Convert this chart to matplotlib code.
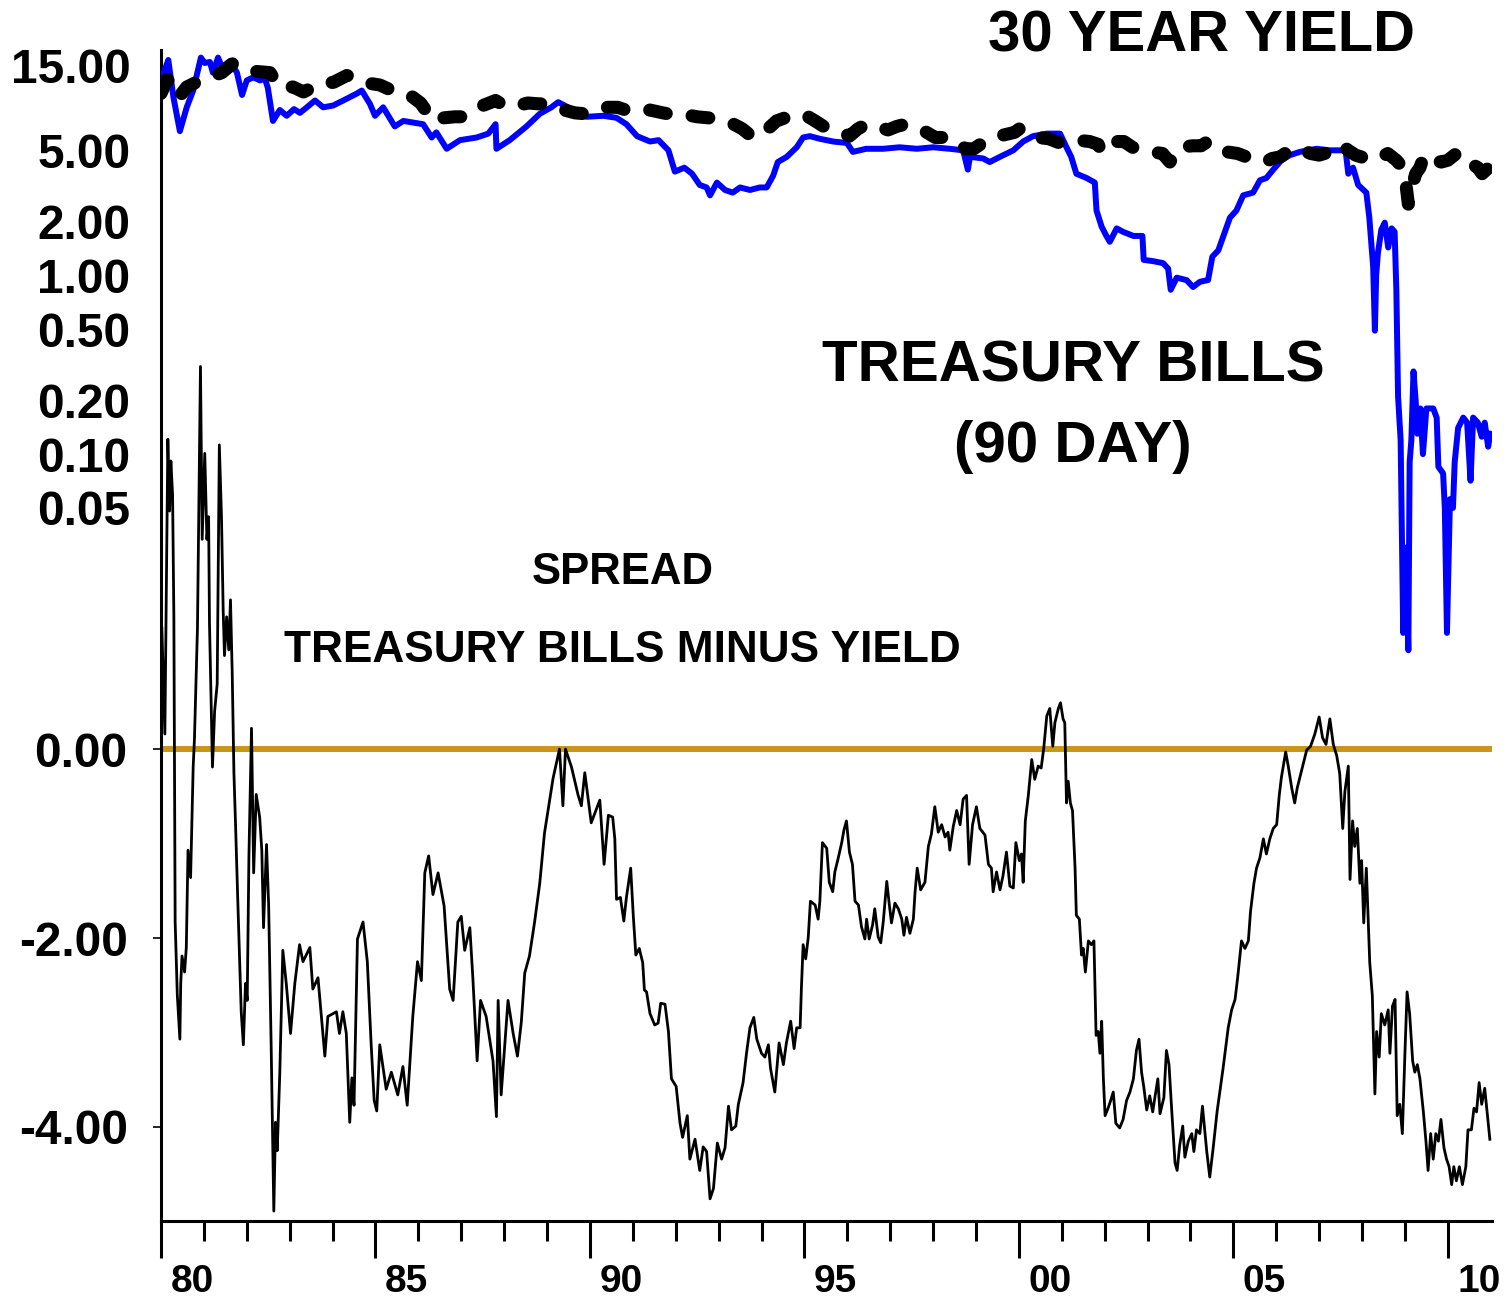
import matplotlib
matplotlib.use("Agg")
import matplotlib.pyplot as plt
import matplotlib.transforms as mtrans
from matplotlib.ticker import NullLocator

plt.rcParams['font.family'] = ['Liberation Sans', 'DejaVu Sans']
plt.rcParams['font.weight'] = 'bold'

# ---------------- data (decimal years) ----------------
bill_t = [1980.00, 1980.17, 1980.29, 1980.44, 1980.60, 1980.75, 1980.93, 1981.02, 1981.14, 1981.21,
          1981.33, 1981.42, 1981.61, 1981.77, 1981.89, 1982.00, 1982.15, 1982.31, 1982.42, 1982.49,
          1982.61, 1982.77, 1982.93, 1983.10, 1983.24, 1983.40, 1983.59, 1983.78, 1984.01, 1984.25,
          1984.57, 1984.68, 1984.87, 1984.99, 1985.18, 1985.45, 1985.65, 1986.11, 1986.31, 1986.42,
          1986.66, 1986.97, 1987.36, 1987.63, 1987.80, 1987.82, 1988.13, 1988.52, 1988.83, 1989.10,
          1989.26, 1989.53, 1989.92, 1990.31, 1990.62, 1990.85, 1991.10, 1991.40, 1991.60, 1991.83,
          1991.98, 1992.20, 1992.38, 1992.56, 1992.72, 1992.80, 1992.96, 1993.15, 1993.33, 1993.50,
          1993.73, 1993.96, 1994.12, 1994.27, 1994.38, 1994.59, 1994.82, 1994.97, 1995.13, 1995.36,
          1995.67, 1995.99, 1996.13, 1996.44, 1996.83, 1997.22, 1997.62, 1998.00, 1998.39, 1998.70,
          1998.81, 1998.86, 1999.17, 1999.32, 1999.56, 1999.87, 2000.10, 2000.33, 2000.65, 2000.96,
          2001.11, 2001.22, 2001.34, 2001.58, 2001.77, 2001.81, 2001.93, 2002.04, 2002.12, 2002.28,
          2002.43, 2002.67, 2002.88, 2002.91, 2003.13, 2003.36, 2003.48, 2003.54, 2003.68, 2003.91,
          2004.06, 2004.22, 2004.41, 2004.51, 2004.65, 2004.76, 2004.92, 2005.07, 2005.23, 2005.46,
          2005.62, 2005.77, 2005.93, 2006.12, 2006.32, 2006.55, 2006.94, 2007.25, 2007.56, 2007.62,
          2007.68, 2007.79, 2007.91, 2008.10, 2008.17, 2008.26, 2008.30, 2008.33, 2008.37, 2008.45,
          2008.53, 2008.61, 2008.69, 2008.76, 2008.80, 2008.84, 2008.90, 2008.96, 2009.02, 2009.08,
          2009.11, 2009.15, 2009.20, 2009.25, 2009.29, 2009.36, 2009.42, 2009.50, 2009.66, 2009.74,
          2009.78, 2009.89, 2009.93, 2009.98, 2010.05, 2010.12, 2010.16, 2010.24, 2010.36, 2010.45,
          2010.53, 2010.59, 2010.70, 2010.79, 2010.86, 2010.94, 2010.99]
bill_v = [12.3, 16.0, 9.9, 6.4, 8.7, 10.8, 16.5, 15.4, 15.6, 13.6,
          16.5, 14.6, 15.8, 13.6, 10.2, 12.3, 12.8, 12.3, 12.6, 11.2,
          7.3, 8.4, 7.8, 8.5, 8.1, 8.7, 9.5, 8.7, 8.9, 9.5,
          10.4, 10.8, 9.1, 7.8, 8.7, 6.8, 7.3, 7.0, 5.9, 6.3,
          5.1, 5.7, 5.9, 6.2, 7.0, 5.1, 5.7, 6.8, 8.0, 8.7,
          9.3, 8.6, 7.7, 7.8, 7.6, 7.0, 6.0, 5.6, 5.7, 5.0,
          3.8, 4.0, 3.7, 3.2, 3.1, 2.8, 3.3, 3.0, 2.9, 3.1,
          3.0, 3.1, 3.1, 3.6, 4.3, 4.6, 5.2, 5.9, 6.0, 5.8,
          5.6, 5.5, 4.9, 5.1, 5.1, 5.2, 5.1, 5.2, 5.1, 5.0,
          3.9, 4.6, 4.5, 4.3, 4.6, 5.0, 5.6, 6.0, 6.2, 6.2,
          5.2, 4.6, 3.7, 3.5, 3.3, 2.3, 1.87, 1.66, 1.54, 1.83,
          1.75, 1.66, 1.66, 1.22, 1.20, 1.17, 1.09, 0.83, 0.97, 0.94,
          0.86, 0.92, 0.94, 1.27, 1.38, 1.64, 2.1, 2.3, 2.8, 2.9,
          3.4, 3.5, 3.9, 4.4, 4.7, 4.9, 5.1, 5.0, 5.0, 4.9,
          3.7, 4.0, 3.2, 2.9, 2.1, 1.11, 0.49, 1.0, 1.33, 1.8,
          1.97, 1.43, 1.83, 1.75, 0.83, 0.21, 0.12, 0.01, 0.03, 0.008,
          0.09, 0.12, 0.29, 0.20, 0.13, 0.18, 0.10, 0.18, 0.18, 0.16,
          0.085, 0.078, 0.05, 0.01, 0.056, 0.05, 0.09, 0.14, 0.16, 0.15,
          0.071, 0.16, 0.15, 0.125, 0.15, 0.11, 0.13]

bond_t = [1980.00, 1980.15, 1980.40, 1980.60, 1980.91, 1981.14, 1981.42, 1981.69, 1982.00, 1982.23,
          1982.54, 1982.77, 1983.08, 1983.32, 1983.71, 1984.02, 1984.33, 1984.60, 1984.90, 1985.10,
          1985.35, 1985.60, 1985.80, 1986.05, 1986.20, 1986.35, 1986.60, 1986.85, 1987.05, 1987.25,
          1987.45, 1987.65, 1987.80, 1988.00, 1988.25, 1988.55, 1988.80, 1989.05, 1989.40, 1989.65,
          1989.90, 1990.15, 1990.40, 1990.65, 1990.90, 1991.15, 1991.40, 1991.70, 1991.95, 1992.10,
          1992.25, 1992.50, 1992.75, 1993.00, 1993.15, 1993.35, 1993.55, 1993.80, 1994.00, 1994.15,
          1994.35, 1994.55, 1994.85, 1995.05, 1995.25, 1995.45, 1995.65, 1995.85, 1996.05, 1996.25,
          1996.45, 1996.70, 1996.95, 1997.15, 1997.35, 1997.55, 1997.80, 1998.05, 1998.30, 1998.55,
          1998.75, 1998.95, 1999.15, 1999.40, 1999.65, 1999.90, 2000.05, 2000.25, 2000.45, 2000.70,
          2000.95, 2001.15, 2001.35, 2001.65, 2001.85, 2001.92, 2002.00, 2002.25, 2002.45, 2002.65,
          2002.85, 2003.10, 2003.35, 2003.52, 2003.60, 2003.75, 2004.05, 2004.25, 2004.40, 2004.65,
          2004.85, 2005.10, 2005.30, 2005.50, 2005.75, 2005.90, 2006.10, 2006.35, 2006.55, 2006.80,
          2007.00, 2007.25, 2007.50, 2007.68, 2007.85, 2008.10, 2008.30, 2008.45, 2008.60, 2008.80,
          2008.95, 2009.02, 2009.08, 2009.15, 2009.25, 2009.35, 2009.45, 2009.65, 2009.85, 2010.00,
          2010.20, 2010.40, 2010.55, 2010.70, 2010.80, 2010.95, 2011.00]
bond_v = [10.4, 12.5, 9.8, 11.3, 12.3, 12.8, 13.6, 15.4, 14.4, 13.8,
          13.6, 11.3, 11.3, 10.6, 11.8, 12.0, 13.1, 12.8, 11.8, 11.6,
          10.9, 10.6, 10.2, 9.2, 8.2, 7.3, 7.6, 7.7, 7.7, 8.4,
          8.8, 9.2, 9.5, 8.9, 8.8, 9.2, 9.1, 9.1, 8.4, 8.1,
          8.0, 8.3, 8.7, 8.7, 8.3, 8.2, 8.4, 8.1, 7.9, 7.8,
          7.9, 7.7, 7.6, 7.5, 7.3, 7.0, 6.6, 5.9, 6.3, 6.6,
          7.3, 7.6, 8.0, 7.8, 7.3, 6.8, 6.6, 6.4, 6.0, 6.6,
          7.0, 6.8, 6.5, 6.8, 7.0, 6.7, 6.4, 5.9, 5.9, 5.7,
          5.1, 5.1, 5.5, 5.9, 6.1, 6.3, 6.7, 6.3, 5.9, 5.8,
          5.5, 5.5, 5.7, 5.6, 5.4, 4.9, 5.2, 5.6, 5.6, 5.2,
          5.0, 4.9, 4.8, 4.3, 4.6, 5.2, 5.3, 5.3, 5.6, 5.1,
          4.9, 4.8, 4.6, 4.5, 4.3, 4.5, 4.6, 5.1, 5.1, 4.8,
          4.7, 4.9, 5.4, 5.0, 4.7, 4.5, 4.4, 4.6, 4.8, 4.4,
          4.0, 3.3, 2.5, 3.0, 3.7, 4.0, 4.7, 4.4, 4.3, 4.4,
          4.8, 4.7, 4.2, 4.0, 3.7, 4.0, 4.1]

spread_t = [1980.02, 1980.09, 1980.16, 1980.20, 1980.23, 1980.27, 1980.30, 1980.33, 1980.38, 1980.44,
            1980.46, 1980.49, 1980.55, 1980.59, 1980.63, 1980.69, 1980.75, 1980.78, 1980.85, 1980.88,
            1980.92, 1980.96, 1981.02, 1981.07, 1981.11, 1981.13, 1981.20, 1981.25, 1981.31, 1981.36,
            1981.41, 1981.45, 1981.48, 1981.53, 1981.58, 1981.62, 1981.66, 1981.70, 1981.74, 1981.79,
            1981.87, 1981.92, 1981.97, 1982.01, 1982.05, 1982.11, 1982.16, 1982.22, 1982.30, 1982.35,
            1982.39, 1982.46, 1982.51, 1982.57, 1982.63, 1982.67, 1982.71, 1982.77, 1982.84, 1982.92,
            1983.02, 1983.12, 1983.23, 1983.31, 1983.47, 1983.54, 1983.66, 1983.82, 1983.89, 1984.09,
            1984.16, 1984.24, 1984.32, 1984.40, 1984.45, 1984.50, 1984.58, 1984.71, 1984.81, 1984.90,
            1984.97, 1985.03, 1985.10, 1985.25, 1985.37, 1985.52, 1985.64, 1985.74, 1985.87, 1985.98,
            1986.07, 1986.15, 1986.24, 1986.34, 1986.46, 1986.60, 1986.73, 1986.81, 1986.92, 1987.00,
            1987.08, 1987.20, 1987.27, 1987.37, 1987.45, 1987.58, 1987.74, 1987.82, 1987.86, 1987.93,
            1988.09, 1988.21, 1988.31, 1988.40, 1988.48, 1988.59, 1988.71, 1988.83, 1988.94, 1989.06,
            1989.14, 1989.29, 1989.37, 1989.43, 1989.57, 1989.72, 1989.80, 1989.88, 1990.03, 1990.23,
            1990.33, 1990.43, 1990.53, 1990.58, 1990.62, 1990.71, 1990.79, 1990.85, 1990.95, 1991.01,
            1991.07, 1991.15, 1991.23, 1991.27, 1991.32, 1991.40, 1991.51, 1991.59, 1991.65, 1991.75,
            1991.83, 1991.90, 1992.01, 1992.10, 1992.16, 1992.27, 1992.33, 1992.45, 1992.56, 1992.64,
            1992.72, 1992.80, 1992.88, 1992.97, 1993.07, 1993.15, 1993.23, 1993.30, 1993.40, 1993.46,
            1993.57, 1993.65, 1993.73, 1993.82, 1993.89, 1994.00, 1994.08, 1994.16, 1994.21, 1994.31,
            1994.41, 1994.51, 1994.58, 1994.68, 1994.76, 1994.82, 1994.90, 1994.93, 1994.97, 1995.03,
            1995.09, 1995.14, 1995.25, 1995.32, 1995.36, 1995.42, 1995.52, 1995.58, 1995.66, 1995.71,
            1995.79, 1995.87, 1995.92, 1995.98, 1996.05, 1996.12, 1996.18, 1996.26, 1996.33, 1996.41,
            1996.45, 1996.51, 1996.59, 1996.64, 1996.72, 1996.78, 1996.84, 1996.92, 1996.98, 1997.03,
            1997.11, 1997.19, 1997.27, 1997.32, 1997.38, 1997.46, 1997.54, 1997.58, 1997.63, 1997.71,
            1997.81, 1997.89, 1997.96, 1998.04, 1998.12, 1998.20, 1998.28, 1998.35, 1998.39, 1998.47,
            1998.55, 1998.63, 1998.70, 1998.78, 1998.84, 1998.92, 1999.01, 1999.09, 1999.21, 1999.29,
            1999.36, 1999.40, 1999.48, 1999.56, 1999.63, 1999.71, 1999.79, 1999.87, 1999.93, 2000.01,
            2000.06, 2000.10, 2000.15, 2000.22, 2000.30, 2000.37, 2000.45, 2000.52, 2000.58, 2000.65,
            2000.72, 2000.79, 2000.84, 2000.92, 2000.97, 2001.03, 2001.07, 2001.11, 2001.15, 2001.20,
            2001.25, 2001.31, 2001.34, 2001.41, 2001.46, 2001.50, 2001.55, 2001.62, 2001.69, 2001.75,
            2001.80, 2001.85, 2001.89, 2001.93, 2001.97, 2002.01, 2002.08, 2002.14, 2002.20, 2002.26,
            2002.35, 2002.43, 2002.51, 2002.59, 2002.67, 2002.74, 2002.80, 2002.86, 2002.91, 2002.98,
            2003.05, 2003.12, 2003.17, 2003.24, 2003.29, 2003.38, 2003.44, 2003.50, 2003.56, 2003.64,
            2003.69, 2003.75, 2003.82, 2003.87, 2003.95, 2004.03, 2004.08, 2004.14, 2004.22, 2004.28,
            2004.38, 2004.45, 2004.53, 2004.62, 2004.69, 2004.76, 2004.83, 2004.88, 2004.96, 2005.04,
            2005.10, 2005.19, 2005.27, 2005.35, 2005.40, 2005.48, 2005.54, 2005.62, 2005.70, 2005.77,
            2005.85, 2005.93, 2006.01, 2006.07, 2006.12, 2006.22, 2006.28, 2006.36, 2006.43, 2006.49,
            2006.55, 2006.63, 2006.71, 2006.80, 2006.90, 2007.00, 2007.08, 2007.16, 2007.25, 2007.33,
            2007.41, 2007.48, 2007.55, 2007.60, 2007.68, 2007.72, 2007.78, 2007.83, 2007.89, 2007.95,
            2007.99, 2008.04, 2008.10, 2008.18, 2008.24, 2008.30, 2008.34, 2008.40, 2008.45, 2008.53,
            2008.61, 2008.65, 2008.71, 2008.77, 2008.82, 2008.88, 2008.94, 2009.00, 2009.05, 2009.11,
            2009.18, 2009.23, 2009.29, 2009.35, 2009.43, 2009.49, 2009.54, 2009.60, 2009.66, 2009.72,
            2009.78, 2009.84, 2009.91, 2009.97, 2010.03, 2010.09, 2010.14, 2010.20, 2010.27, 2010.34,
            2010.42, 2010.47, 2010.55, 2010.61, 2010.67, 2010.73, 2010.79, 2010.86, 2010.98]
spread_v = [1.28, 0.16, 3.28, 2.52, 3.05, 2.69, 1.40, -1.83, -2.60, -3.07,
            -2.48, -2.19, -2.36, -2.10, -1.07, -1.36, -0.19, 0.11, 1.28, 2.46,
            4.05, 2.22, 3.13, 2.22, 2.46, 1.34, -0.19, 0.40, 0.69, 3.22,
            2.46, 1.46, 0.99, 1.40, 1.05, 1.58, 0.81, -0.25, -0.83, -1.60,
            -2.78, -3.13, -2.48, -2.66, -1.13, 0.22, -1.31, -0.48, -0.72, -1.07,
            -1.89, -1.01, -1.66, -3.19, -4.89, -3.95, -4.25, -3.42, -2.13, -2.48,
            -3.01, -2.48, -2.07, -2.25, -2.10, -2.54, -2.42, -3.25, -2.83, -2.78,
            -3.01, -2.78, -3.01, -3.95, -3.48, -3.77, -2.01, -1.83, -2.25, -3.13,
            -3.72, -3.83, -3.13, -3.60, -3.42, -3.66, -3.36, -3.77, -2.83, -2.25,
            -2.45, -1.31, -1.13, -1.54, -1.31, -1.66, -2.54, -2.66, -1.83, -1.77,
            -2.13, -1.89, -2.42, -3.30, -2.66, -2.83, -3.30, -3.89, -2.66, -3.66,
            -2.66, -3.01, -3.25, -2.89, -2.37, -2.19, -1.83, -1.42, -0.89, -0.54,
            -0.31, 0.00, -0.60, 0.00, -0.19, -0.48, -0.60, -0.25, -0.78, -0.54,
            -1.22, -0.70, -0.72, -0.95, -1.59, -1.57, -1.82, -1.57, -1.26, -1.76,
            -2.18, -2.11, -2.26, -2.55, -2.57, -2.80, -2.92, -2.90, -2.69, -2.70,
            -2.99, -3.49, -3.57, -3.96, -4.11, -3.88, -4.34, -4.13, -4.46, -4.21,
            -4.26, -4.76, -4.65, -4.17, -4.34, -4.22, -3.78, -4.03, -3.99, -3.76,
            -3.53, -3.22, -2.95, -2.84, -3.07, -3.22, -3.26, -3.13, -3.38, -3.63,
            -3.11, -3.34, -3.11, -2.88, -3.17, -2.95, -2.95, -2.53, -2.07, -2.22,
            -1.99, -1.61, -1.65, -1.80, -1.61, -0.99, -1.05, -1.41, -1.51, -1.30,
            -1.15, -0.99, -0.86, -0.76, -1.09, -1.22, -1.61, -1.65, -1.88, -2.01,
            -1.80, -2.01, -1.86, -1.69, -1.99, -2.05, -1.82, -1.40, -1.65, -1.84,
            -1.63, -1.69, -1.80, -1.97, -1.78, -1.95, -1.80, -1.51, -1.26, -1.49,
            -1.41, -1.03, -0.90, -0.61, -0.88, -0.80, -0.93, -0.88, -1.07, -0.82,
            -0.65, -0.80, -0.53, -0.49, -1.22, -0.80, -0.61, -0.84, -0.91, -1.22,
            -1.26, -1.51, -1.30, -1.49, -1.34, -1.09, -1.45, -1.47, -0.99, -1.18,
            -1.11, -1.41, -0.76, -0.49, -0.11, -0.32, -0.18, -0.20, 0.01, 0.35,
            0.43, 0.03, 0.28, 0.43, 0.49, 0.32, 0.28, -0.57, -0.34, -0.57,
            -0.65, -1.26, -1.76, -1.80, -2.18, -2.11, -2.36, -2.03, -2.07, -2.03,
            -3.03, -2.99, -3.22, -2.88, -3.49, -3.88, -3.80, -3.72, -3.63, -3.96,
            -4.01, -3.92, -3.72, -3.63, -3.49, -3.19, -3.07, -3.42, -3.57, -3.82,
            -3.67, -3.84, -3.69, -3.49, -3.86, -3.69, -3.19, -3.34, -3.80, -4.38,
            -4.46, -4.19, -3.99, -4.32, -4.15, -4.07, -4.26, -4.03, -4.07, -3.78,
            -4.26, -4.53, -4.22, -3.84, -3.61, -3.38, -3.13, -2.95, -2.76, -2.65,
            -2.42, -2.03, -2.11, -2.03, -1.72, -1.42, -1.26, -1.15, -0.95, -1.11,
            -0.95, -0.84, -0.80, -0.49, -0.30, -0.03, -0.18, -0.41, -0.57, -0.41,
            -0.30, -0.15, -0.01, 0.03, 0.16, 0.34, 0.12, 0.05, 0.32, 0.05,
            -0.07, -0.26, -0.84, -0.45, -0.18, -1.38, -0.76, -1.03, -0.84, -1.42,
            -1.18, -1.84, -1.26, -2.26, -2.61, -3.65, -2.99, -3.26, -2.80, -2.92,
            -2.76, -3.22, -2.72, -2.65, -3.88, -3.76, -4.07, -3.22, -2.57, -2.80,
            -3.30, -3.42, -3.34, -3.49, -3.84, -4.15, -4.46, -4.07, -4.34, -4.07,
            -4.15, -3.92, -4.22, -4.34, -4.42, -4.61, -4.42, -4.57, -4.42, -4.61,
            -4.42, -4.03, -4.03, -3.80, -3.84, -3.53, -3.76, -3.59, -4.13]

year_ticks = [1980, 1985, 1990, 1995, 2000, 2005, 2010]
year_labels = ['80', '85', '90', '95', '00', '05', '10']
log_ticks = [15, 5, 2, 1, 0.5, 0.2, 0.1, 0.05]
spread_ticks = [0, -2, -4]

GOLD = '#C9961A'
BLUE = '#0000FF'

# ---------------- figure ----------------
W, H = 1512, 1297
fig = plt.figure(figsize=(W / 100, H / 100), dpi=100)
L, R, T, B = 161, 1492, 50, 1221
rect = [L / W, 1 - B / H, (R - L) / W, (B - T) / H]

ax = fig.add_axes(rect)
ax.set_xlim(1980.0, 2011.03)
ax.set_ylim(-4.995, 7.40)
ax.axhline(0, color=GOLD, lw=4.3, solid_capstyle='round', zorder=2)
ax.plot(spread_t, spread_v, color='black', lw=2.0, zorder=3)
for s in ['top', 'right']:
    ax.spines[s].set_visible(False)
for s in ['left', 'bottom']:
    ax.spines[s].set_linewidth(2.2)

ax.set_yticks(spread_ticks, labels=['%.2f' % v for v in spread_ticks])
ax.tick_params(axis='y', length=6, width=1.2, pad=18, labelsize=34.5)
ax.set_xticks(year_ticks, labels=year_labels)
ax.set_xticks(list(range(1980, 2011)), minor=True)
ax.tick_params(axis='x', which='major', length=26.6, width=2.2, pad=4, labelsize=28)
ax.tick_params(axis='x', which='minor', length=14.4, width=2.2)
offset = mtrans.ScaledTranslation(0.31, 0, fig.dpi_scale_trans)
for lbl in ax.get_xticklabels():
    lbl.set_transform(lbl.get_transform() + offset)

axl = fig.add_axes(rect)
axl.set_xlim(1980.0, 2011.03)
axl.set_yscale('log')
axl.set_ylim(5.14e-6, 18.2)
axl.patch.set_visible(False)
for s in axl.spines.values():
    s.set_visible(False)
axl.plot(bill_t, bill_v, color=BLUE, lw=4.3, zorder=2, solid_joinstyle='round')
axl.plot(bond_t, bond_v, color='black', lw=9.4, dashes=(1.3, 2.0),
         dash_capstyle='round', dash_joinstyle='round', zorder=3)
axl.set_yticks(log_ticks, labels=['%.2f' % v for v in log_ticks])
axl.yaxis.set_minor_locator(NullLocator())
axl.tick_params(axis='y', which='both', length=0, pad=22, labelsize=34.5)
axl.set_xticks([])
axl.tick_params(axis='x', which='both', bottom=False, labelbottom=False)

def ftext(x, y, s, size):
    fig.text(x / W, 1 - y / H, s, ha='center', va='center', fontsize=size, fontweight='bold')

ftext(1201, 37, '30 YEAR YIELD', 41.8)
ftext(1073, 366, 'TREASURY BILLS', 42)
ftext(1073, 447, '(90 DAY)', 42)
ftext(623, 572, 'SPREAD', 31.5)
ftext(622, 650, 'TREASURY BILLS MINUS YIELD', 31.8)

fig.savefig('out.png', dpi=100)
